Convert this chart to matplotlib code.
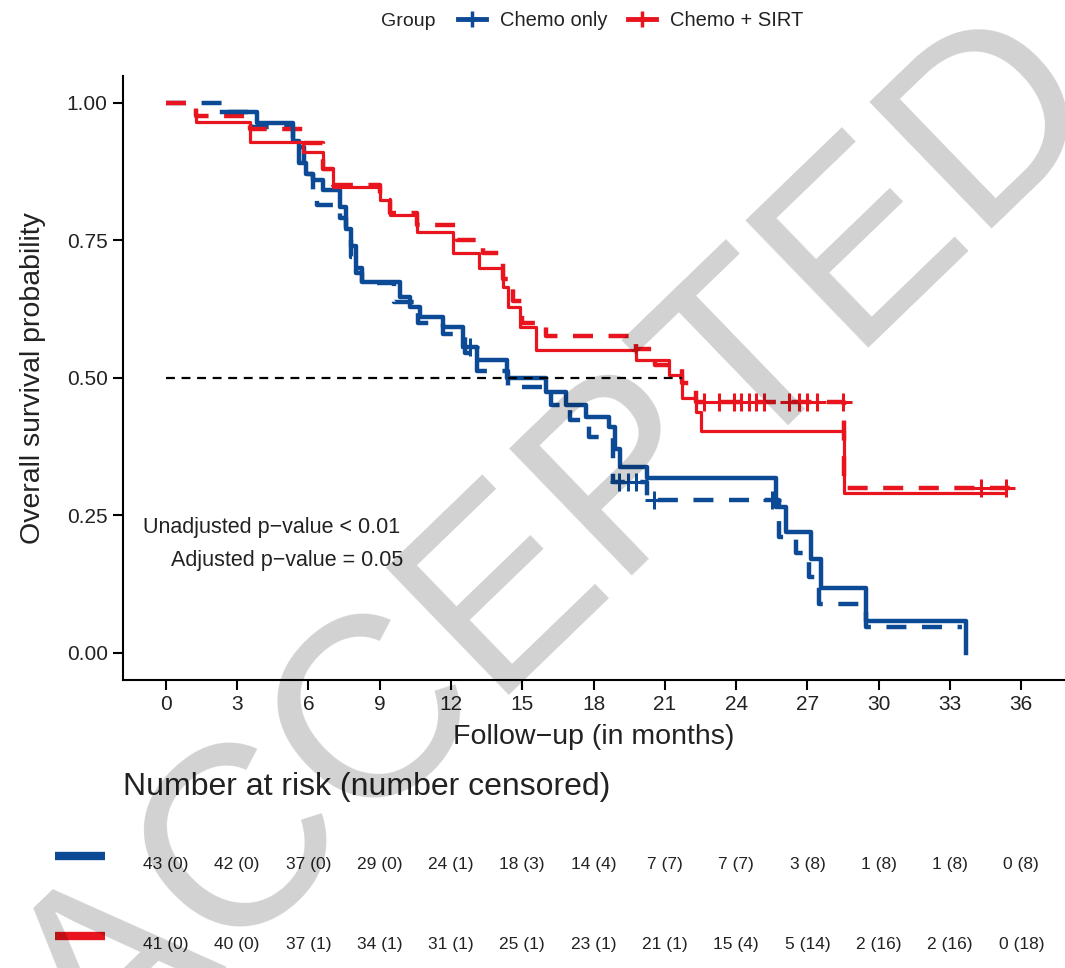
import numpy as np
import matplotlib.pyplot as plt
import matplotlib.transforms as mtransforms
from matplotlib.lines import Line2D

plt.rcParams['font.family'] = ['Liberation Sans', 'DejaVu Sans']

BLUE = '#0D4A96'
RED = '#E8141E'

# Kaplan-Meier steps (months, survival): solid = unadjusted, dashed = adjusted
chemo_t = [2.35, 3.83, 5.34, 5.6, 5.9, 6.18, 6.6, 7.32, 7.6, 7.8, 8.0, 8.24, 9.84, 10.26, 10.68, 11.65,
           12.49, 13.08, 14.34, 16.02, 16.86, 17.7, 18.67, 18.9, 19.1, 20.27, 25.69, 26.11, 27.17, 27.59,
           29.48, 33.68]
chemo_s = [0.983, 0.963, 0.93, 0.89, 0.87, 0.86, 0.842, 0.81, 0.77, 0.74, 0.70, 0.674, 0.647, 0.628, 0.61,
           0.592, 0.556, 0.532, 0.50, 0.474, 0.45, 0.428, 0.41, 0.37, 0.337, 0.317, 0.264, 0.219, 0.171,
           0.118, 0.058, 0.0]
chemo_adj_t = [0, 2.35, 3.6, 5.34, 5.8, 6.18, 6.35, 7.32, 7.6, 7.8, 8.0, 8.24, 9.6, 10.6, 11.65, 12.6,
               13.08, 14.4, 16.2, 17.0, 17.83, 18.8, 20.27, 25.82, 26.5, 27.08, 27.5, 29.48, 33.52]
chemo_adj_s = [1.0, 0.983, 0.956, 0.92, 0.87, 0.84, 0.814, 0.79, 0.75, 0.72, 0.69, 0.672, 0.637, 0.60,
               0.58, 0.545, 0.513, 0.483, 0.45, 0.423, 0.393, 0.31, 0.277, 0.21, 0.182, 0.137, 0.089,
               0.046, 0.046]

sirt_t = [1.26, 1.26, 3.53, 5.76, 6.6, 7.02, 9.0, 9.42, 10.56, 12.07, 13.2, 14.17, 14.4, 14.89, 15.6,
          19.8, 21.19, 21.74, 22.33, 22.54, 28.55, 35.28]
sirt_s = [0.985, 0.965, 0.929, 0.91, 0.88, 0.847, 0.823, 0.796, 0.765, 0.727, 0.70, 0.665, 0.628, 0.592,
          0.55, 0.532, 0.505, 0.463, 0.437, 0.404, 0.291, 0.291]
sirt_adj_t = [0, 1.26, 3.53, 5.76, 6.6, 7.02, 9.0, 9.42, 10.56, 12.24, 13.33, 14.17, 14.6, 15.0, 16.0,
              19.8, 20.6, 21.74, 22.33, 28.55, 35.62]
sirt_adj_s = [1.0, 0.977, 0.953, 0.927, 0.88, 0.85, 0.823, 0.80, 0.778, 0.75, 0.727, 0.68, 0.64, 0.60,
              0.576, 0.553, 0.523, 0.49, 0.455, 0.30, 0.30]

# censoring times
chemo_cens = [12.8]
chemo_adj_cens = [19.09, 19.43, 19.8, 20.56, 25.53]
sirt_adj_cens = [22.67, 23.3, 23.93, 24.22, 24.56, 24.85, 25.19, 26.24, 26.66, 27.0, 27.42, 28.5,
                 34.31, 35.37]

# number at risk (number censored)
risk_times = [0, 3, 6, 9, 12, 15, 18, 21, 24, 27, 30, 33, 36]
chemo_risk = [43, 42, 37, 29, 24, 18, 14, 7, 7, 3, 1, 1, 0]
chemo_cens_n = [0, 0, 0, 0, 1, 3, 4, 7, 7, 8, 8, 8, 8]
sirt_risk = [41, 40, 37, 34, 31, 25, 23, 21, 15, 5, 2, 2, 0]
sirt_cens_n = [0, 0, 1, 1, 1, 1, 1, 1, 4, 14, 16, 16, 18]


def surv_at(t, times, surv):
    i = np.searchsorted(times, t, side='right') - 1
    return np.asarray(surv)[np.clip(i, 0, len(surv) - 1)]


fig = plt.figure(figsize=(10.65, 9.68), dpi=100)
ax = fig.add_axes([0.1155, 0.2975, 0.8836, 0.6245])

dash = (0, (4.5, 3.5))
ax.step(chemo_adj_t, chemo_adj_s, where='post', color=BLUE, lw=3.2, ls=dash)
ax.step(sirt_adj_t, sirt_adj_s, where='post', color=RED, lw=3.2, ls=dash)
ax.step(chemo_t, chemo_s, where='post', color=BLUE, lw=3.2)
ax.step(sirt_t, sirt_s, where='post', color=RED, lw=2.3)

mk = dict(marker='+', ms=13, mew=2.2, ls='none')
ax.plot(chemo_cens, surv_at(chemo_cens, chemo_t, chemo_s), color=BLUE, **mk)
ax.plot(chemo_adj_cens, surv_at(chemo_adj_cens, chemo_adj_t, chemo_adj_s), color=BLUE, **mk)
ax.plot(sirt_adj_cens, surv_at(sirt_adj_cens, sirt_adj_t, sirt_adj_s), color=RED, **mk)

# median survival line up to where the SIRT curve reaches 0.5
med = sirt_t[int(np.argmax(np.asarray(sirt_s) <= 0.5))]
ax.plot([0, med], [0.5, 0.5], color='black', lw=1.6, ls=(0, (4, 3)))

ax.text(4.45, 0.228, 'Unadjusted p\u2212value < 0.01', ha='center', va='center', fontsize=15.5,
        color='#222222')
ax.text(5.1, 0.168, 'Adjusted p\u2212value = 0.05', ha='center', va='center', fontsize=15.5,
        color='#222222')

ax.set_xlim(-1.8, 37.8)
ax.set_ylim(-0.05, 1.05)
ax.set_xticks(risk_times)
ax.set_yticks([0, 0.25, 0.5, 0.75, 1.0])
ax.set_yticklabels(['0.00', '0.25', '0.50', '0.75', '1.00'])
ax.tick_params(labelsize=15, length=7, width=1.5, color='black', labelcolor='#222222', pad=4)
for side in ['top', 'right']:
    ax.spines[side].set_visible(False)
for side in ['left', 'bottom']:
    ax.spines[side].set_linewidth(1.5)
ax.set_xlabel('Follow\u2212up (in months)', fontsize=20.5, labelpad=7, color='#222222')
ax.set_ylabel('Overall survival probability', fontsize=20.5, labelpad=15, color='#222222')

# legend at the top
fig.text(408 / 1065, 1 - 21 / 968, 'Group', ha='center', va='center', fontsize=14, color='#222222')
handles = [Line2D([], [], color=BLUE, lw=3.5, marker='+', ms=11, mew=2.5),
           Line2D([], [], color=RED, lw=3.5, marker='+', ms=11, mew=2.5)]
fig.legend(handles, ['Chemo only', 'Chemo + SIRT'], ncol=2, frameon=False, fontsize=14.5,
           loc='center left', bbox_to_anchor=(440 / 1065, 1 - 21 / 968), handlelength=1.4,
           handletextpad=0.7, columnspacing=1.0, labelcolor='#222222')

# risk table below
fig.text(123 / 1065, 1 - 787 / 968, 'Number at risk (number censored)', ha='left', va='center',
         fontsize=23, color='#222222')
tr = mtransforms.blended_transform_factory(ax.transData, fig.transFigure)
rows = [(chemo_risk, chemo_cens_n, BLUE, 1 - 864 / 968), (sirt_risk, sirt_cens_n, RED, 1 - 944 / 968)]
for risk, cens, col, yy in rows:
    for t, n, c in zip(risk_times, risk, cens):
        ax.text(t, yy, f'{n} ({c})', transform=tr, ha='center', va='center', fontsize=12.5,
                color='#222222', clip_on=False)
    fig.add_artist(Line2D([55 / 1065, 105 / 1065], [yy + 8 / 968, yy + 8 / 968], color=col, lw=6,
                          solid_capstyle='butt'))

fig.text(0.527, 0.43, 'ACCEPTED', rotation=44, rotation_mode='anchor', ha='center', va='center',
         fontsize=185, color='black', alpha=0.18, zorder=10)

fig.savefig('out.png', dpi=100)
